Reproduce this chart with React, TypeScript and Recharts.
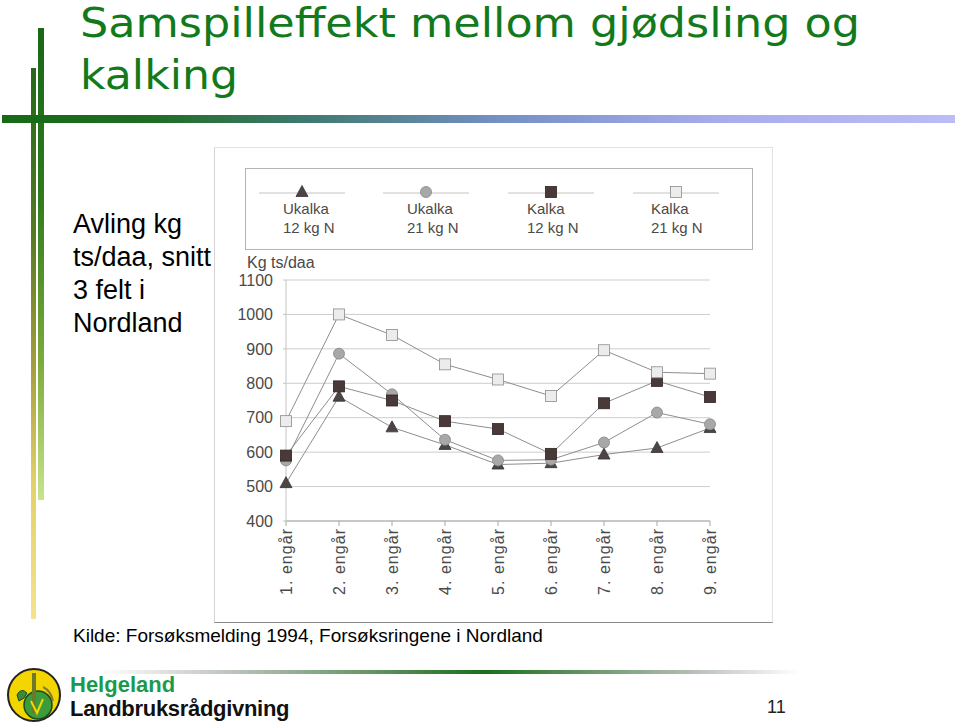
import React from "react";
import { LineChart, Line, XAxis, YAxis, CartesianGrid, Legend } from "recharts";

const CATEGORIES = [
  "1. engår",
  "2. engår",
  "3. engår",
  "4. engår",
  "5. engår",
  "6. engår",
  "7. engår",
  "8. engår",
  "9. engår",
];

// Avling kg ts/daa
const UKALKA_12 = [510, 761, 672, 621, 564, 568, 593, 612, 670];
const UKALKA_21 = [576, 886, 768, 636, 576, 578, 628, 715, 681];
const KALKA_12 = [590, 791, 750, 690, 667, 595, 742, 807, 760];
const KALKA_21 = [690, 1000, 940, 855, 811, 763, 896, 832, 828];

const Y_TICKS = [400, 500, 600, 700, 800, 900, 1000, 1100];

const SERIES = [
  { key: "u12", label: "Ukalka", dose: "12 kg N", values: UKALKA_12, shape: "triangle", fill: "#4d4545", stroke: "#3a3333" },
  { key: "u21", label: "Ukalka", dose: "21 kg N", values: UKALKA_21, shape: "circle", fill: "#a8a8a8", stroke: "#858585" },
  { key: "k12", label: "Kalka", dose: "12 kg N", values: KALKA_12, shape: "square", fill: "#4a3939", stroke: "#2f2424" },
  { key: "k21", label: "Kalka", dose: "21 kg N", values: KALKA_21, shape: "square", fill: "#ececec", stroke: "#8c8c8c" },
];

const data = CATEGORIES.map((cat, i) => {
  const row: Record<string, string | number> = { cat };
  SERIES.forEach((s) => {
    row[s.key] = s.values[i];
  });
  return row;
});

const ARIAL = '"Liberation Sans", Arial, sans-serif';
const TEXT_GREY = "#4a4a4a";
const LINE_GREY = "#8e8e8e";

const Marker = ({ shape, cx, cy, fill, stroke }: any) => {
  if (cx == null || cy == null) return null;
  if (shape === "triangle") {
    return (
      <path
        d={`M${cx},${cy - 6.5}L${cx + 6},${cy + 4.5}L${cx - 6},${cy + 4.5}Z`}
        fill={fill}
        stroke={stroke}
        strokeWidth={0.8}
      />
    );
  }
  if (shape === "circle") {
    return <circle cx={cx} cy={cy} r={5.5} fill={fill} stroke={stroke} strokeWidth={0.8} />;
  }
  return <rect x={cx - 5.5} y={cy - 5.5} width={11} height={11} fill={fill} stroke={stroke} strokeWidth={0.8} />;
};

// legend box offsets relative to the legend box
const LEGEND_MARK_X = [57, 181, 306, 431];
const LEGEND_TEXT_X = [38, 162, 282, 406];

const renderLegend = () => (
  <svg width={508} height={82} style={{ display: "block" }}>
    <rect x={0.5} y={0.5} width={507} height={81} fill="#fff" stroke="#b4b4b4" />
    {SERIES.map((s, i) => (
      <g key={s.key}>
        <line
          x1={LEGEND_MARK_X[i] - 43}
          x2={LEGEND_MARK_X[i] + 43}
          y1={25}
          y2={25}
          stroke="#c4c4c4"
          strokeWidth={1}
        />
        <Marker shape={s.shape} cx={LEGEND_MARK_X[i]} cy={24} fill={s.fill} stroke={s.stroke} />
        <text x={LEGEND_TEXT_X[i]} y={46} fontSize={15} fill={TEXT_GREY} fontFamily={ARIAL}>
          {s.label}
        </text>
        <text x={LEGEND_TEXT_X[i]} y={65} fontSize={15} fill={TEXT_GREY} fontFamily={ARIAL}>
          {s.dose}
        </text>
      </g>
    ))}
  </svg>
);

const XTick = ({ x, y, payload }: any) => (
  <text
    transform={`translate(${x},${y + 1}) rotate(-90)`}
    textAnchor="end"
    dy="0.36em"
    fontSize={16}
    fill={TEXT_GREY}
    fontFamily={ARIAL}
    textLength={66}
  >
    {payload.value}
  </text>
);

// unit label sits above the 1100 tick, left-aligned with the tick labels
const UnitLabel = ({ viewBox }: any) => (
  <text x={viewBox.x + 32} y={viewBox.y - 12} fontSize={16} fill={TEXT_GREY} fontFamily={ARIAL}>
    Kg ts/daa
  </text>
);

const YieldChart = () => (
  <div
    style={{
      position: "absolute",
      left: 214,
      top: 147,
      width: 557,
      height: 474,
      borderLeft: "1px solid #d4d4d4",
      borderTop: "1px solid #e2e2e2",
      borderRight: "1px solid #e2e2e2",
      borderBottom: "1px solid #8a8a8a",
      background: "#fff",
    }}
  >
    <LineChart width={557} height={474} data={data} margin={{ top: 132, right: 62, bottom: 21, left: 0 }}>
      <CartesianGrid vertical={false} stroke="#cdcdcd" />
      <XAxis
        dataKey="cat"
        interval={0}
        height={80}
        tick={<XTick />}
        tickSize={5}
        tickMargin={2}
        axisLine={{ stroke: "#a8a8a8" }}
        tickLine={{ stroke: "#a8a8a8" }}
      />
      <YAxis
        width={71}
        domain={[400, 1100]}
        ticks={Y_TICKS}
        interval={0}
        tickSize={3}
        tickMargin={10}
        axisLine={{ stroke: "#c4c4c4" }}
        tickLine={{ stroke: "#c4c4c4" }}
        tick={{ fontSize: 16, fill: TEXT_GREY, fontFamily: ARIAL }}
        label={{ content: UnitLabel }}
      />
      <Legend
        layout="vertical"
        align="center"
        verticalAlign="middle"
        content={renderLegend}
        wrapperStyle={{ left: 30, top: 20, width: 508, height: 82, margin: 0 }}
      />
      {SERIES.map((s) => (
        <Line
          key={s.key}
          dataKey={s.key}
          name={`${s.label} ${s.dose}`}
          stroke={LINE_GREY}
          strokeWidth={1}
          isAnimationActive={false}
          dot={(p: any) => (
            <Marker key={`${s.key}-${p.index}`} shape={s.shape} cx={p.cx} cy={p.cy} fill={s.fill} stroke={s.stroke} />
          )}
          activeDot={false}
        />
      ))}
    </LineChart>
  </div>
);

const Logo = () => (
  <svg width={60} height={60} style={{ position: "absolute", left: 5, top: 665 }}>
    <circle cx={29} cy={30} r={26} fill="#f3d500" stroke="#222" strokeWidth={2} />
    <circle cx={33} cy={40} r={14} fill="#3c9c3c" stroke="#1c4c1c" strokeWidth={1.5} />
    <rect x={27} y={8} width={4} height={40} fill="#6a7a2a" />
    <path d="M12 30 q4 -8 10 -2 q-2 6 -8 8z" fill="#3a8a3a" stroke="#1c4c1c" strokeWidth={1} />
    <path d="M38 22 q8 4 10 14" fill="none" stroke="#8a7a2a" strokeWidth={2} />
    <path d="M26 36 l6 12 l6 -14" fill="none" stroke="#f3d500" strokeWidth={2} />
  </svg>
);

export default function App() {
  return (
    <div
      style={{
        position: "absolute",
        left: 0,
        top: 0,
        width: 960,
        height: 726,
        background: "#fff",
        overflow: "hidden",
        fontFamily: ARIAL,
      }}
    >
      {/* slide decorations */}
      <div
        style={{
          position: "absolute",
          left: 38,
          top: 28,
          width: 6,
          height: 472,
          background: "linear-gradient(#186818, #2f7a1e 35%, #7aaa3a 70%, #c8e48c)",
        }}
      />
      <div
        style={{
          position: "absolute",
          left: 31,
          top: 68,
          width: 5,
          height: 551,
          background: "linear-gradient(#246a1a, #567a22 30%, #a8a040 55%, #e2d06a 75%, #f6e28e)",
        }}
      />
      <div
        style={{
          position: "absolute",
          left: 2,
          top: 115,
          width: 953,
          height: 8,
          background: "linear-gradient(90deg, #176a17, #1f6c22 15%, #3f7a70 32%, #7490c4 52%, #a8acec 75%, #bcbcf6)",
        }}
      />
      <div
        style={{
          position: "absolute",
          left: 100,
          top: 670,
          width: 700,
          height: 4,
          background: "linear-gradient(90deg, rgba(200,200,200,0), #b8c0b8 20%, #1a6e1a 55%, #b8c0b8 85%, rgba(200,200,200,0))",
        }}
      />

      <svg width={960} height={104} style={{ position: "absolute", left: 0, top: 0 }}>
        <text x={80} y={37} fontSize={41} fill="#137a1c" fontFamily='"DejaVu Sans", sans-serif' textLength={780} lengthAdjust="spacingAndGlyphs">
          Samspilleffekt mellom gjødsling og
        </text>
        <text x={80} y={89} fontSize={41} fill="#137a1c" fontFamily='"DejaVu Sans", sans-serif' textLength={158} lengthAdjust="spacingAndGlyphs">
          kalking
        </text>
      </svg>

      <div style={{ position: "absolute", left: 73, top: 208, fontSize: 27, lineHeight: "33px", color: "#000" }}>
        Avling kg
        <br />
        ts/daa, snitt
        <br />
        3 felt i
        <br />
        Nordland
      </div>

      <YieldChart />

      <div style={{ position: "absolute", left: 73, top: 624, fontSize: 19, lineHeight: "24px", color: "#000", whiteSpace: "nowrap" }}>
        Kilde: Forsøksmelding 1994, Forsøksringene i Nordland
      </div>

      <Logo />
      <div style={{ position: "absolute", left: 70, top: 672, fontSize: 22, fontWeight: 700, color: "#1c9a4c", lineHeight: "26px" }}>
        Helgeland
      </div>
      <div style={{ position: "absolute", left: 70, top: 696, fontSize: 22, fontWeight: 700, color: "#111", lineHeight: "26px", letterSpacing: "-0.3px" }}>
        Landbruksrådgivning
      </div>
      <div style={{ position: "absolute", left: 767, top: 695, fontSize: 18, color: "#222", lineHeight: "24px" }}>11</div>
    </div>
  );
}
